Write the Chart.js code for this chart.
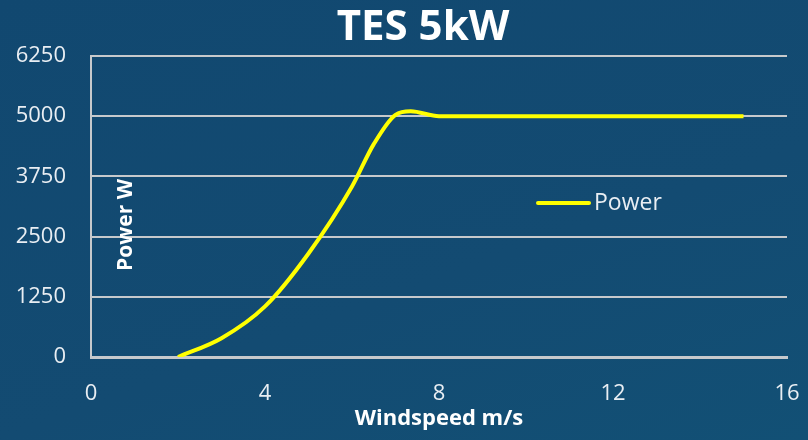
<!DOCTYPE html>
<html>
<head>
<meta charset="utf-8">
<script src="https://cdn.jsdelivr.net/npm/chart.js@4"></script>
<style>
  html,body{margin:0;padding:0;background:#124a70}
  #wrap{width:808px;height:440px;position:relative;background:linear-gradient(160deg,#114870 0%,#134b72 60%,#125075 100%)}
</style>
</head>
<body>
<div id="wrap"><canvas id="c" width="808" height="440"></canvas></div>
<script>
const windspeed = [2, 3, 4, 5, 6, 6.5, 7, 7.35, 8, 9, 10, 11, 12, 13, 14, 15];
const power     = [0, 390, 1050, 2150, 3540, 4420, 5030, 5105, 5000, 5000, 5000, 5000, 5000, 5000, 5000, 5000];
const yTicks = [0, 1250, 2500, 3750, 5000, 6250];
const xTicks = [0, 4, 8, 12, 16];

const fontFam = "'Open Sans','DejaVu Sans',sans-serif";
const gridGray = '#c6c9cc';

// title, legend and y title are placed like the original slide, so draw them by hand
const insideText = {
  id:'insideText',
  afterDraw(chart){
    const ctx = chart.ctx;
    ctx.save();
    ctx.fillStyle='#ffffff'; ctx.textAlign='center'; ctx.textBaseline='middle';
    ctx.font = "bold 42px " + fontFam;
    ctx.fillText('TES 5kW', 423, 28);
    ctx.strokeStyle = '#ffff00'; ctx.lineWidth = 4; ctx.lineCap='round';
    ctx.beginPath(); ctx.moveTo(538,203); ctx.lineTo(589,203); ctx.stroke();
    ctx.fillStyle = '#e9eef3';
    ctx.font = "23px " + fontFam;
    ctx.textAlign='left';
    ctx.fillText('Power', 594, 203);
    ctx.translate(126, 225); ctx.rotate(-Math.PI/2);
    ctx.textAlign='center'; ctx.fillStyle='#ffffff';
    ctx.font = "bold 21px " + fontFam;
    ctx.fillText('Power W', 0, 0);
    ctx.restore();
  }
};

new Chart(document.getElementById('c'), {
  type:'line',
  data:{
    datasets:[{
      label:'Power',
      data: windspeed.map((w,i)=>({x:w, y:power[i]})),
      borderColor:'#ffff00',
      borderWidth:4,
      pointRadius:0,
      cubicInterpolationMode:'monotone',
      fill:false
    }]
  },
  options:{
    responsive:false,
    animation:false,
    layout:{padding:{left:0,right:21,top:56,bottom:0}},
    plugins:{
      legend:{display:false},
      tooltip:{enabled:false},
      title:{display:false}
    },
    scales:{
      x:{
        type:'linear', min:0, max:16,
        afterBuildTicks(s){ s.ticks = xTicks.map(v=>({value:v})); },
        afterFit(s){ s.height = 83; s.paddingRight = 0; s.paddingLeft = 0; },
        grid:{display:false},
        border:{display:true, color:gridGray, width:3},
        ticks:{color:'#e9eef3', font:{family:fontFam, size:22}, padding:16, maxRotation:0,
          callback:v=>String(v)},
        title:{display:true, text:'Windspeed m/s', color:'#ffffff',
          font:{family:fontFam, size:22, weight:'bold'}, padding:{top:0,bottom:8}}
      },
      y:{
        min:0, max:6250,
        afterBuildTicks(s){ s.ticks = yTicks.map(v=>({value:v})); },
        afterFit(s){ s.width = 91; s.paddingTop = 0; s.paddingBottom = 0; },
        grid:{color:gridGray, lineWidth:2, drawTicks:false},
        border:{display:true, color:gridGray, width:2},
        ticks:{color:'#e9eef3', font:{family:fontFam, size:22}, padding:25,
          callback:v=>String(v)}
      }
    }
  },
  plugins:[insideText]
});
</script>
</body>
</html>
